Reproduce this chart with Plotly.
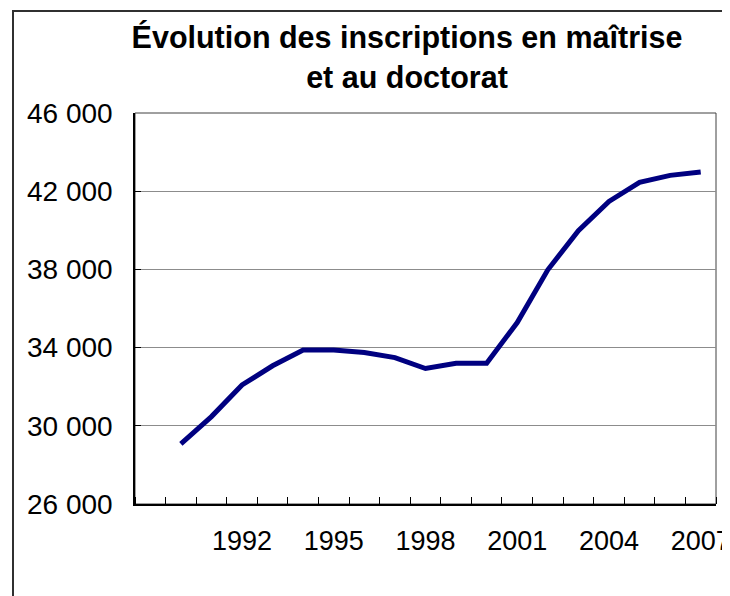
import plotly.graph_objects as go

years = list(range(1990, 2008))
inscriptions = [29070, 30470, 32090, 33070, 33880, 33880, 33750, 33490, 32930,
                33200, 33200, 35280, 37980, 39980, 41480, 42450, 42810, 42980]
tick_years = [1992, 1995, 1998, 2001, 2004, 2007]
y_ticks = [26000, 30000, 34000, 38000, 42000, 46000]
title_text = "Évolution des inscriptions en maîtrise<br>et au doctorat"

OFF = 8  # page body margin in the browser
SW, SH = 730, 596  # screen size
W, H = SW - OFF, SH - OFF
# desired on-screen plot area: x 135..716, y 113..504
L = 135 - OFF
T = 113 - OFF
R = W - (716 - OFF)
B = H - (504 - OFF)
pw, ph = W - L - R, H - T - B

fig = go.Figure()
fig.add_trace(go.Scatter(
    x=years, y=inscriptions, mode="lines",
    line=dict(color="#000080", width=5),
    showlegend=False, hoverinfo="skip",
))

def px_x(sx):
    return (sx - OFF - L) / pw

def px_y(sy):
    return (H - B - (sy - OFF)) / ph

shapes = [
    # outer chart border (extends beyond the image on right and bottom)
    dict(type="rect", xref="paper", yref="paper",
         x0=px_x(13), x1=px_x(780), y0=px_y(660), y1=px_y(11),
         line=dict(color="#303030", width=2), layer="below"),
    # plot area border
    dict(type="rect", xref="paper", yref="paper", x0=0, x1=1, y0=0, y1=1,
         line=dict(color="#404040", width=1), layer="below"),
]

fig.update_layout(
    template="none",
    width=W, height=H,
    margin=dict(l=L, r=R, t=T, b=B, autoexpand=False),
    paper_bgcolor="white", plot_bgcolor="white",
    separators=", ",
    font=dict(family="Liberation Sans, Arial, sans-serif", color="black"),
    title=dict(text=title_text, x=(407 - OFF) / W, xanchor="center", xref="container",
               y=1 - (48 - OFF) / H, yanchor="top", yref="container",
               font=dict(size=30.5, family="Liberation Sans, Arial, sans-serif",
                         color="black", weight="bold")),
    shapes=shapes,
)

fig.update_xaxes(
    range=[1988.5, 2007.5], automargin=False,
    tickmode="array", tickvals=tick_years, ticktext=[str(t) for t in tick_years],
    ticks="", showgrid=False, zeroline=False,
    showline=True, linecolor="black", linewidth=2,
    tickfont=dict(size=27),
    ticklabelstandoff=12,
    ticklabeloverflow="allow",
    minor=dict(ticks="inside", ticklen=7, tickcolor="black", tickwidth=1,
               tick0=1988.5, dtick=1, showgrid=False),
)
fig.update_yaxes(
    range=[26000, 46000], automargin=False,
    tickmode="array", tickvals=y_ticks, tickformat=",d",
    ticks="inside", ticklen=6, tickcolor="black",
    showgrid=True, gridcolor="#8c8c8c", gridwidth=1,
    zeroline=False, showline=True, linecolor="black", linewidth=1.5,
    tickfont=dict(size=28),
    ticklabelstandoff=15,
)

fig.write_html("out.html")
